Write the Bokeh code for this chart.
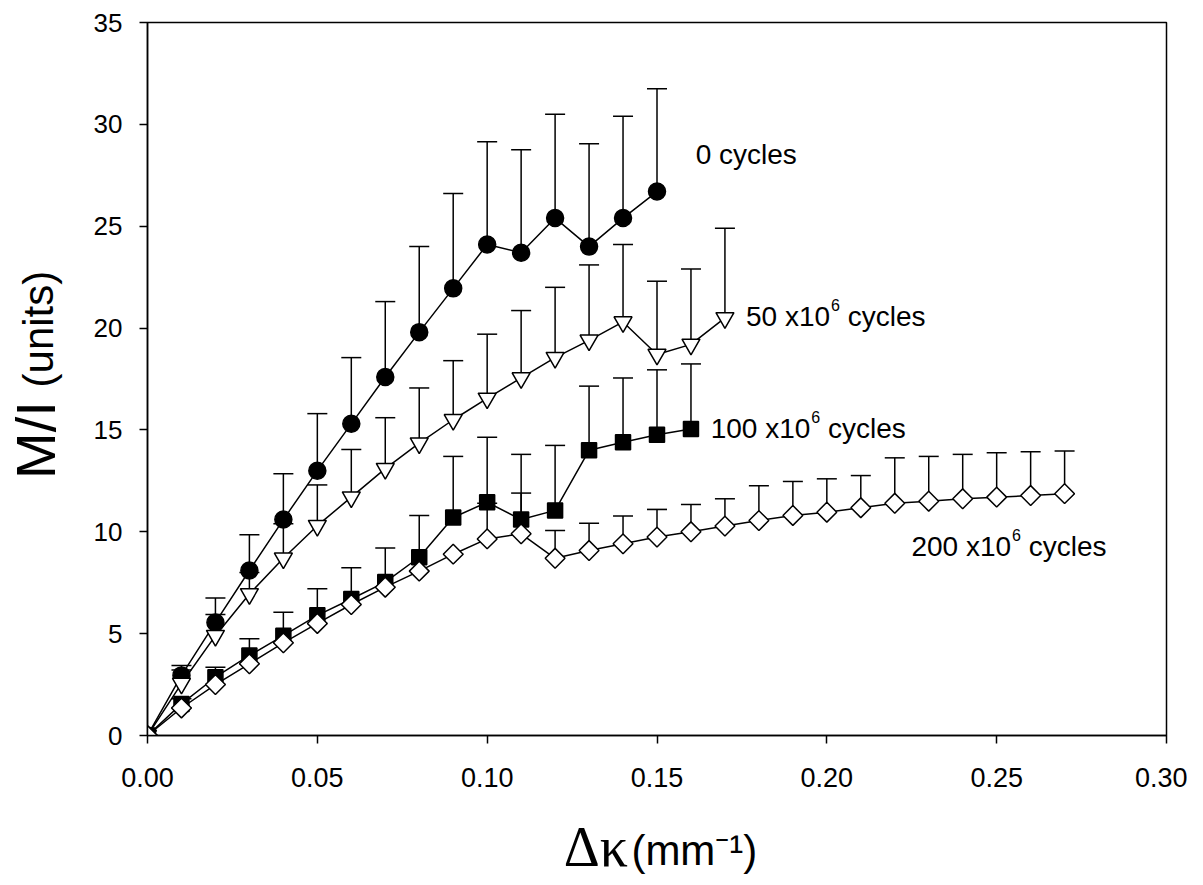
import math
from bokeh.plotting import figure
from bokeh.models import (Range1d, Whisker, TeeHead, ColumnDataSource, Label,
                          FixedTicker, PrintfTickFormatter, LinearAxis)
from bokeh.embed import file_html
from bokeh.resources import INLINE

# ---------------- data ----------------
kappa_0 = [0.00, 0.01, 0.02, 0.03, 0.04, 0.05, 0.06, 0.07, 0.08, 0.09, 0.10,
           0.11, 0.12, 0.13, 0.14, 0.15]
mi_0 = [0, 2.95, 5.55, 8.1, 10.6, 13.0, 15.3, 17.6, 19.8, 21.95, 24.1,
        23.7, 25.4, 24.0, 25.4, 26.7]
up_0 = [0, 3.44, 6.75, 9.85, 12.85, 15.8, 18.55, 21.3, 24.0, 26.6, 29.15,
        28.75, 30.5, 29.05, 30.4, 31.75]

kappa_50 = [0.00, 0.01, 0.02, 0.03, 0.04, 0.05, 0.06, 0.07, 0.08, 0.09, 0.10,
            0.11, 0.12, 0.13, 0.14, 0.15, 0.16, 0.17]
mi_50 = [0, 2.55, 4.9, 6.95, 8.7, 10.3, 11.7, 13.1, 14.35, 15.5, 16.55,
         17.55, 18.55, 19.4, 20.3, 18.7, 19.2, 20.5]
up_50 = [0, 3.22, 5.94, 8.0, 10.4, 12.3, 14.04, 15.6, 17.06, 18.4, 19.7,
         20.86, 22.0, 23.1, 24.1, 22.3, 22.9, 24.9]

kappa_100 = [0.00, 0.01, 0.02, 0.03, 0.04, 0.05, 0.06, 0.07, 0.08, 0.09, 0.10,
             0.11, 0.12, 0.13, 0.14, 0.15, 0.16]
mi_100 = [0, 1.55, 2.86, 3.93, 4.9, 5.9, 6.7, 7.53, 8.75, 10.7, 11.45,
          10.6, 11.05, 14.0, 14.4, 14.76, 15.05]
up_100 = [0, 1.8, 3.35, 4.75, 6.05, 7.2, 8.23, 9.2, 10.8, 13.7, 14.64,
          13.8, 14.24, 17.15, 17.55, 17.95, 18.24]

kappa_200 = [0.00, 0.01, 0.02, 0.03, 0.04, 0.05, 0.06, 0.07, 0.08, 0.09, 0.10,
             0.11, 0.12, 0.13, 0.14, 0.15, 0.16, 0.17, 0.18, 0.19, 0.20,
             0.21, 0.22, 0.23, 0.24, 0.25, 0.26, 0.27]
mi_200 = [0, 1.35, 2.5, 3.52, 4.55, 5.5, 6.43, 7.28, 8.07, 8.9, 9.65,
          9.9, 8.7, 9.08, 9.41, 9.74, 10.0, 10.28, 10.55, 10.8, 10.96,
          11.18, 11.4, 11.5, 11.62, 11.7, 11.78, 11.87]
up_200 = [0, 1.35, 2.5, 3.52, 4.55, 5.5, 6.43, 7.28, 8.07, 8.9, 11.4,
          11.9, 10.06, 10.42, 10.77, 11.1, 11.34, 11.62, 12.26, 12.47, 12.6,
          12.76, 13.63, 13.7, 13.8, 13.88, 13.93, 13.96]

x_ticks = [0.0, 0.05, 0.10, 0.15, 0.20, 0.25, 0.30]
y_ticks = [0, 5, 10, 15, 20, 25, 30, 35]

x_title_parts = ["\u0394\u03ba", "(mm\u207b\u00b9)"]
y_title_parts = ["M/I", "(units)"]

# ---------------- figure ----------------
SANS = "Liberation Sans"
SERIF = "Liberation Serif"

W, H = 1187, 884
p = figure(width=W, height=H, x_range=Range1d(0, 0.30), y_range=Range1d(0, 35),
           output_backend="svg", toolbar_location=None,
           min_border_left=147, min_border_right=W - 1166, min_border_top=22,
           min_border_bottom=H - 735)
p.xgrid.visible = False
p.ygrid.visible = False
p.outline_line_color = "black"
p.outline_line_width = 1.5
p.background_fill_color = "white"
p.border_fill_color = "white"

p.xaxis.ticker = FixedTicker(ticks=x_ticks)
p.yaxis.ticker = FixedTicker(ticks=y_ticks)
p.xaxis.formatter = PrintfTickFormatter(format="%.2f")
for ax in (p.xaxis, p.yaxis):
    ax.axis_line_width = 1.5
    ax.axis_line_color = "black"
    ax.major_tick_line_width = 1.5
    ax.major_tick_line_color = "black"
    ax.major_tick_out = 8
    ax.major_tick_in = 0
    ax.minor_tick_out = 0
    ax.minor_tick_in = 0
    ax.major_label_text_font = SANS
    ax.major_label_text_color = "black"
p.xaxis.major_label_text_font_size = "27px"
p.yaxis.major_label_text_font_size = "26px"
p.xaxis.major_label_standoff = 24
p.yaxis.major_label_standoff = 17

series = [
    (kappa_0, mi_0, up_0, "circle", "black", 17, 0.0),
    (kappa_50, mi_50, up_50, "inverted_triangle", "white", 18, 0.0),
    (kappa_100, mi_100, up_100, "square", "black", 15, 0.0),
    (kappa_200, mi_200, up_200, "square", "white", 14, math.pi / 4),
]

for xs, ys, ups, marker, fill, size, ang in series:
    src = ColumnDataSource(dict(x=xs, y=ys, up=ups))
    w = Whisker(base="x", lower="y", upper="up", source=src,
                line_color="black", line_width=1.5, level="underlay",
                upper_head=TeeHead(size=20, line_width=1.5, line_color="black"),
                lower_head=None)
    p.add_layout(w)
    p.line("x", "y", source=src, line_color="black", line_width=1.5)
    p.scatter("x", "y", source=src, marker=marker, size=size, angle=ang,
              fill_color=fill, line_color="black", line_width=1.5)


# ---------------- axis titles (as single-tick text axes) ----------------
def text_axis(side, tick, text, font, size, standoff, orientation="horizontal"):
    ax = LinearAxis(ticker=FixedTicker(ticks=[tick]),
                    major_label_overrides={tick: text},
                    axis_line_color=None, major_tick_line_color=None,
                    minor_tick_line_color=None, major_tick_out=0, major_tick_in=0,
                    minor_tick_out=0, minor_tick_in=0,
                    major_label_text_font=font,
                    major_label_text_font_size=f"{size}px",
                    major_label_text_color="black",
                    major_label_standoff=int(standoff),
                    major_label_orientation=orientation)
    p.add_layout(ax, side)


text_axis("below", 0.132, x_title_parts[0], SERIF, 56, 26)
text_axis("below", 0.161, x_title_parts[1], SANS, 42, -54)
text_axis("left", 19.95, y_title_parts[1], SANS, 42, 28, "vertical")
text_axis("left", 14.5, y_title_parts[0], SANS, 56, -55, "vertical")

# ---------------- curve labels ----------------
ADV = {'0': .556, '1': .556, '2': .556, '5': .556, '6': .556, ' ': .278,
       'x': .5, 'c': .5, 'y': .5, 'l': .222, 'e': .556, 's': .5}


def tw(s, size):
    return sum(ADV.get(ch, .556) for ch in s) * size


def lab(x, y, text, size, xo=0, yo=0):
    p.add_layout(Label(x=x, y=y, text=text, x_offset=xo, y_offset=yo,
                       text_font=SANS, text_font_size=f"{size}px",
                       text_color="black", text_baseline="alphabetic",
                       text_align="left"))


FS = 28
SUP = 16
lab(0.1614, 28.5, "0 cycles", FS)
for x0, y0, head in [(0.1762, 20.55, "50 x10"), (0.1658, 15.08, "100 x10"),
                     (0.2249, 9.3, "200 x10")]:
    w1 = tw(head, FS)
    lab(x0, y0, head, FS)
    lab(x0, y0, "6", SUP, xo=w1 + 1, yo=11.5)
    lab(x0, y0, "cycles", FS, xo=w1 + 1 + tw("6", SUP) + tw(" ", FS))

open("out.html", "w").write(file_html(p, INLINE))
